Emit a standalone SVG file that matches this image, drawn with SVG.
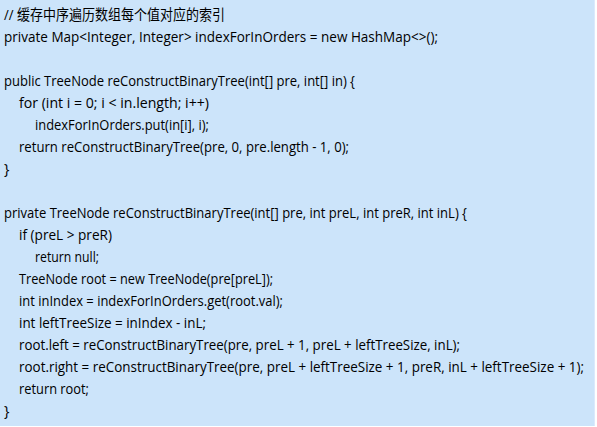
<svg xmlns="http://www.w3.org/2000/svg" width="597" height="427" viewBox="0 0 597 427">
<style>
.code{font-family:"Open Sans","Noto Sans","Noto Sans CJK SC",sans-serif;font-size:14.5px;fill:#000;}
</style>
<rect x="0" y="0" width="597" height="427" fill="#ffffff"/>
<rect x="0" y="0" width="595" height="426" fill="#cce4fa"/>
<line x1="594.5" y1="0" x2="594.5" y2="426" stroke="#dbeafc" stroke-width="1"/>
<g id="code">
<text class="code" x="4" y="20" textLength="221" lengthAdjust="spacingAndGlyphs">// 缓存中序遍历数组每个值对应的索引</text>
<text class="code" x="4" y="42" textLength="434" lengthAdjust="spacingAndGlyphs">private Map&lt;Integer, Integer&gt; indexForInOrders = new HashMap&lt;&gt;();</text>
<text class="code" x="4" y="86" textLength="351" lengthAdjust="spacingAndGlyphs">public TreeNode reConstructBinaryTree(int[] pre, int[] in) {</text>
<text class="code" x="19" y="108" textLength="190" lengthAdjust="spacingAndGlyphs">for (int i = 0; i &lt; in.length; i++)</text>
<text class="code" x="35" y="130" textLength="174" lengthAdjust="spacingAndGlyphs">indexForInOrders.put(in[i], i);</text>
<text class="code" x="19" y="152" textLength="330" lengthAdjust="spacingAndGlyphs">return reConstructBinaryTree(pre, 0, pre.length - 1, 0);</text>
<text class="code" x="4" y="174">}</text>
<text class="code" x="4" y="218" textLength="463" lengthAdjust="spacingAndGlyphs">private TreeNode reConstructBinaryTree(int[] pre, int preL, int preR, int inL) {</text>
<text class="code" x="19" y="240" textLength="93" lengthAdjust="spacingAndGlyphs">if (preL &gt; preR)</text>
<text class="code" x="35" y="262" textLength="64" lengthAdjust="spacingAndGlyphs">return null;</text>
<text class="code" x="19" y="284" textLength="254" lengthAdjust="spacingAndGlyphs">TreeNode root = new TreeNode(pre[preL]);</text>
<text class="code" x="19" y="306" textLength="264" lengthAdjust="spacingAndGlyphs">int inIndex = indexForInOrders.get(root.val);</text>
<text class="code" x="19" y="328" textLength="187" lengthAdjust="spacingAndGlyphs">int leftTreeSize = inIndex - inL;</text>
<text class="code" x="19" y="350" textLength="441" lengthAdjust="spacingAndGlyphs">root.left = reConstructBinaryTree(pre, preL + 1, preL + leftTreeSize, inL);</text>
<text class="code" x="19" y="372" textLength="565" lengthAdjust="spacingAndGlyphs">root.right = reConstructBinaryTree(pre, preL + leftTreeSize + 1, preR, inL + leftTreeSize + 1);</text>
<text class="code" x="19" y="394" textLength="70" lengthAdjust="spacingAndGlyphs">return root;</text>
<text class="code" x="4" y="416">}</text>
</g>
</svg>
